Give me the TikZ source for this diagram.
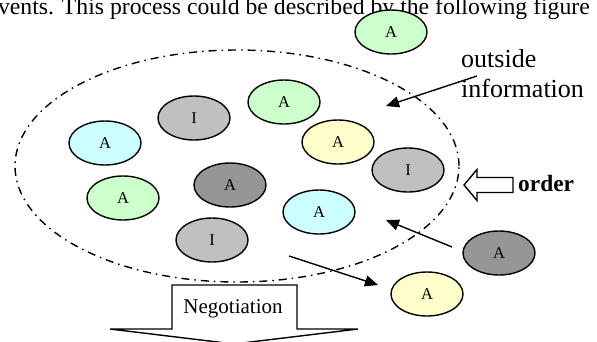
\documentclass[tikz,border=0pt]{standalone}
\usepackage{fontspec}
\setmainfont{Liberation Serif}
\usetikzlibrary{arrows.meta,shapes.geometric}

\definecolor{agreen}{HTML}{CCFFCC}
\definecolor{acyan}{HTML}{CCFFFF}
\definecolor{ayellow}{HTML}{FFFFCC}
\definecolor{igray}{HTML}{C0C0C0}
\definecolor{adark}{HTML}{969696}

\begin{document}
\begin{tikzpicture}[x=1pt, y=-1pt,
  agent/.style={ellipse, draw, line width=1.4pt, minimum width=72pt, minimum height=44pt,
                inner sep=0pt, font=\fontsize{16.5}{16.5}\selectfont},
  team/.style={ellipse, draw, line width=1.4pt, minimum width=444pt, minimum height=232pt,
               dash pattern=on 8pt off 5pt on 1.5pt off 5pt},
  arrow/.style={-{Triangle[length=13pt, width=11pt]}, line width=1.4pt},
  blockarrow/.style={draw, line width=1.4pt, fill=white},
  outtext/.style={font=\fontsize{26}{30}\selectfont, align=left, inner sep=0pt}
]
\useasboundingbox (0,0) rectangle (597,341);

\node[anchor=base east, inner sep=0pt, font=\fontsize{23.7}{28}\selectfont] (intro) at (590,14)
  {events. This process could be described by the following figure};

% the organisation
\node[team] (org) at (237,166) {};

\node[agent, fill=agreen]  (aTop)       at (391,32)  {A};
\node[agent, fill=agreen]  (aGreen)     at (284,102) {A};
\node[agent, fill=igray]   (iUp)        at (194,118) {I};
\node[agent, fill=acyan]   (aCyan)      at (105,143) {A};
\node[agent, fill=ayellow] (aYellow)    at (338,142) {A};
\node[agent, fill=agreen]  (aGreenLow)  at (123,198) {A};
\node[agent, fill=adark]   (aDark)      at (230,185) {A};
\node[agent, fill=igray]   (iRight)     at (408,170) {I};
\node[agent, fill=acyan]   (aCyanLow)   at (319,212) {A};
\node[agent, fill=igray]   (iLow)       at (212,240) {I};
\node[agent, fill=adark]   (aDarkOut)   at (499,253) {A};
\node[agent, fill=ayellow] (aYellowOut) at (427,294) {A};

% outside information
\node[outtext, anchor=base west] (info) at (461,97) {outside\\information};
\coordinate (infoTail) at (477,76);
\coordinate (infoHead) at (386,106);
\draw[arrow] (infoTail) -- (infoHead);

% agents coming in and going out
\coordinate (inTail) at (452,247);
\coordinate (inHead) at (386,220);
\draw[arrow] (inTail) -- (inHead);
\coordinate (outTail) at (289,256);
\coordinate (outHead) at (378,285);
\draw[arrow] (outTail) -- (outHead);

% order
\draw[blockarrow] (464,185) -- (477,169.5) -- (477,177.5) -- (513,177.5)
  -- (513,192.5) -- (477,192.5) -- (477,200.5) -- cycle;
\node[anchor=base west, inner sep=0pt, font=\bfseries\fontsize{23.4}{28}\selectfont]
  (order) at (518,191) {order};

% negotiation
\draw[blockarrow] (172,285) -- (297,285) -- (297,329) -- (358,329) -- (234,344)
  -- (110,329) -- (172,329) -- cycle;
\node[anchor=base, inner sep=0pt, font=\fontsize{21}{24}\selectfont]
  (nego) at (233,313) {Negotiation};
\end{tikzpicture}
\end{document}
